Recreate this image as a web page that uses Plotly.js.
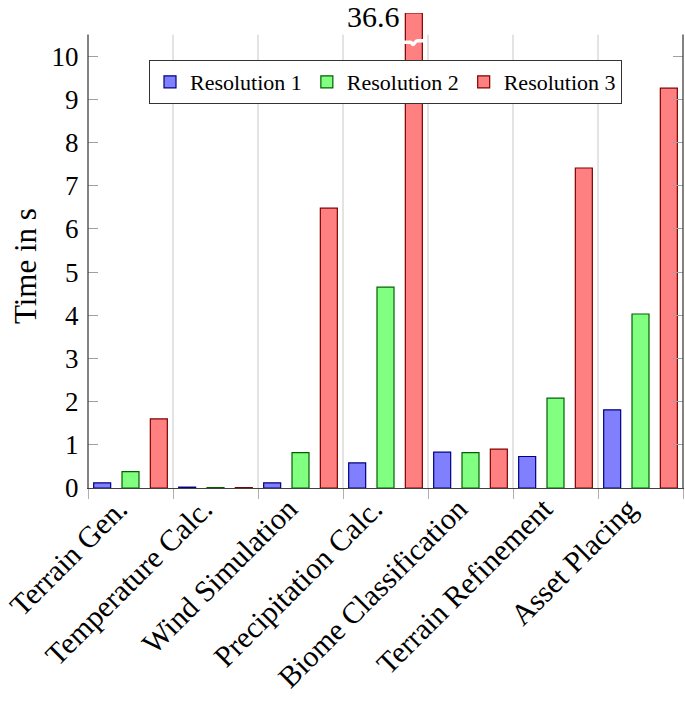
<!DOCTYPE html>
<html>
<head>
<meta charset="utf-8">
<script src="https://cdn.plot.ly/plotly-3.0.1.min.js"></script>
<style>
  html, body { margin: 0; padding: 0; background: #fff; }
  #chart { width: 685px; height: 701px; }
</style>
</head>
<body>
<div id="chart"></div>
<script>
// ---- data ----
const categories = ['Terrain Gen.', 'Temperature Calc.', 'Wind Simulation', 'Precipitation Calc.', 'Biome Classification', 'Terrain Refinement', 'Asset Placing'];
const seriesNames = ['Resolution 1', 'Resolution 2', 'Resolution 3'];
const res1 = [0.12, 0.02, 0.12, 0.58, 0.83, 0.73, 1.81];
const res2 = [0.38, 0.01, 0.82, 4.65, 0.82, 2.08, 4.03];
const res3 = [1.60, 0.01, 6.48, 36.6, 0.90, 7.41, 9.26];
const yTickVals = [0, 1, 2, 3, 4, 5, 6, 7, 8, 9, 10];
const yTickText = ['0', '1', '2', '3', '4', '5', '6', '7', '8', '9', '10'];
const yTitle = 'Time in s';

// ---- style ----
const FONT = 'Liberation Serif, Times New Roman, serif';
const fills = ['#8080ff', '#80ff80', '#ff8080'];
const edges = ['#000080', '#006000', '#800000'];
const axisMax = 10.5;   // visible top of the axis frame
const barCap = 11.0;    // where overflowing bars are cut off (top of plotting area)
const series = [res1, res2, res3];
const AXIS_COLOR = '#404040';
const GRID_COLOR = '#c8c8c8';

const traces = series.map((vals, k) => ({
  type: 'bar',
  name: seriesNames[k],
  x: categories,
  y: vals.map(v => Math.min(v, barCap)),
  marker: { color: fills[k], line: { color: edges[k], width: 1.2 } },
  hoverinfo: 'skip'
}));

const annotations = [];
const shapes = [];

// vertical grid lines at category boundaries (stop at the axis top)
for (let i = 1; i < categories.length; i++) {
  shapes.push({ type: 'line', xref: 'x', yref: 'y', x0: i - 0.5, x1: i - 0.5, y0: 0, y1: axisMax,
    line: { color: GRID_COLOR, width: 1 }, layer: 'below' });
}
// left and right axis lines
[0, 1].forEach(px => {
  shapes.push({ type: 'line', xref: 'paper', yref: 'y', x0: px, x1: px, y0: 0, y1: axisMax,
    line: { color: AXIS_COLOR, width: 1.3 }, layer: 'above' });
});

// labels + break marks for values exceeding the axis
const nS = series.length;
const slot = 1 / nS;
const halfBar = slot * 0.6 / 2;
series.forEach((vals, k) => {
  vals.forEach((v, i) => {
    if (v > axisMax) {
      const cx = i + (k - (nS - 1) / 2) * slot;
      annotations.push({
        x: cx - halfBar, y: 1, xref: 'x', yref: 'paper',
        text: v.toFixed(1), showarrow: false,
        xanchor: 'right', yanchor: 'middle', xshift: -3, yshift: -3,
        font: { family: FONT, size: 30, color: '#000' }
      });
      const y0 = 10.32, a = 0.075;
      const l = cx - halfBar - 0.02, r = cx + halfBar + 0.02;
      const path = `M${l},${y0} L${cx - 0.04},${y0} ` +
                   `C${cx - 0.02},${y0} ${cx - 0.015},${y0 - a} ${cx},${y0 - a * 0.5} ` +
                   `C${cx + 0.015},${y0} ${cx + 0.02},${y0 + a * 0.5} ${cx + 0.045},${y0 + a * 0.5} L${r},${y0 + a * 0.5}`;
      shapes.push({
        type: 'path', xref: 'x', yref: 'y', path: path,
        line: { color: '#ffffff', width: 3.5 }, layer: 'above'
      });
    }
  });
});

// y axis title (centered on the visible axis frame)
annotations.push({
  xref: 'paper', yref: 'paper', x: -0.106, y: 0.467,
  text: yTitle, textangle: -90, showarrow: false,
  xanchor: 'center', yanchor: 'middle',
  font: { family: FONT, size: 31, color: '#000' }
});

const layout = {
  width: 685, height: 701,
  margin: { l: 88, r: 2, t: 13, b: 213, pad: 0 },
  paper_bgcolor: '#ffffff', plot_bgcolor: '#ffffff',
  font: { family: FONT, color: '#000' },
  barmode: 'group', bargap: 0, bargroupgap: 0.4,
  showlegend: true,
  legend: {
    orientation: 'h', x: 0.5, xanchor: 'center', y: 0.901, yanchor: 'top',
    bgcolor: '#ffffff', bordercolor: '#333333', borderwidth: 1,
    font: { family: FONT, size: 22, color: '#000' },
    itemwidth: 30, traceorder: 'normal'
  },
  xaxis: {
    type: 'category',
    showline: true, linecolor: AXIS_COLOR, linewidth: 1.3, mirror: false,
    ticks: 'outside', ticklen: 10, tickcolor: '#b0b0b0', tickwidth: 1,
    tickson: 'boundaries',
    showgrid: false,
    tickangle: -45,
    ticklabelshift: -12, ticklabelstandoff: -10,
    tickfont: { family: FONT, size: 30, color: '#000' },
    zeroline: false, fixedrange: true
  },
  yaxis: {
    range: [0, barCap],
    tickvals: yTickVals, ticktext: yTickText,
    showline: true, linecolor: 'rgba(0,0,0,0)', linewidth: 1, mirror: 'ticks',
    ticks: 'inside', ticklen: 10, tickcolor: '#a0a0a0', tickwidth: 1,
    showgrid: false, zeroline: false,
    tickfont: { family: FONT, size: 27, color: '#000' },
    ticklabelstandoff: 3,
    fixedrange: true
  },
  annotations: annotations,
  shapes: shapes
};

Plotly.newPlot('chart', traces, layout, { displayModeBar: false, staticPlot: true });
</script>
</body>
</html>
